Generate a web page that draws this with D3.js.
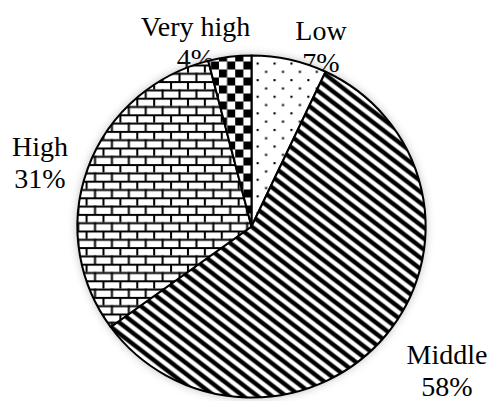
<!DOCTYPE html>
<html>
<head>
<meta charset="utf-8">
<script src="https://cdn.jsdelivr.net/npm/d3@7"></script>
<style>
  html, body { margin: 0; padding: 0; background: #fff; }
  svg { display: block; }
</style>
</head>
<body>
<script>
// Share of respondents per level (percent)
const categories = ["Low", "Middle", "High", "Very high"];
const shares = [7, 58, 31, 4];
const shareLabels = ["7%", "58%", "31%", "4%"];
const fillPatterns = ["dots", "stripes", "bricks", "checks"];

const width = 492, height = 401;
const cx = 251.5, cy = 226.5, radius = 171, stretchX = 1.018;

// label anchors: centre x and baseline of the first line
const labelAnchors = {
  "Low": [321, 40],
  "Middle": [447, 364],
  "High": [40, 156],
  "Very high": [195.5, 36]
};
const lineGap = 32;

const svg = d3.select("body").append("svg")
  .attr("width", width).attr("height", height)
  .attr("viewBox", `0 0 ${width} ${height}`);

const defs = svg.append("defs");

// sparse dots
const t = 16.6;
const pDots = defs.append("pattern").attr("id", "dots")
  .attr("patternUnits", "userSpaceOnUse").attr("width", t).attr("height", t)
  .attr("x", 5).attr("y", 2);
pDots.append("rect").attr("width", t).attr("height", t).attr("fill", "#fff");
pDots.append("rect").attr("x", 0).attr("y", 0).attr("width", 2.1).attr("height", 2.1).attr("fill", "#000");
pDots.append("rect").attr("x", t / 2).attr("y", t / 2).attr("width", 2.1).attr("height", 2.1).attr("fill", "#000");

// wide downward diagonal stripes
const sw = 14, sh = 11;
const pStripes = defs.append("pattern").attr("id", "stripes")
  .attr("patternUnits", "userSpaceOnUse").attr("width", sw).attr("height", sh);
pStripes.append("rect").attr("width", sw).attr("height", sh).attr("fill", "#fff");
[-sw, 0, sw].forEach(off => {
  pStripes.append("line")
    .attr("x1", off - sw).attr("y1", -sh)
    .attr("x2", off + 2 * sw).attr("y2", 2 * sh)
    .attr("stroke", "#000").attr("stroke-width", 4.4);
});

// horizontal bricks
const pBricks = defs.append("pattern").attr("id", "bricks")
  .attr("patternUnits", "userSpaceOnUse").attr("width", t).attr("height", t)
  .attr("x", 3).attr("y", 4);
pBricks.append("rect").attr("width", t).attr("height", t).attr("fill", "#fff");
pBricks.append("rect").attr("x", 0).attr("y", 0).attr("width", t).attr("height", 2).attr("fill", "#000");
pBricks.append("rect").attr("x", 0).attr("y", t / 2).attr("width", t).attr("height", 2).attr("fill", "#000");
pBricks.append("rect").attr("x", 0).attr("y", 0).attr("width", 2).attr("height", t / 2).attr("fill", "#000");
pBricks.append("rect").attr("x", t / 2).attr("y", t / 2).attr("width", 2).attr("height", t / 2).attr("fill", "#000");

// large checkerboard
const c = 8;
const pChecks = defs.append("pattern").attr("id", "checks")
  .attr("patternUnits", "userSpaceOnUse").attr("width", 2 * c).attr("height", 2 * c)
  .attr("y", 3);
pChecks.append("rect").attr("width", 2 * c).attr("height", 2 * c).attr("fill", "#fff");
pChecks.append("rect").attr("x", 0).attr("y", 0).attr("width", c).attr("height", c).attr("fill", "#000");
pChecks.append("rect").attr("x", c).attr("y", c).attr("width", c).attr("height", c).attr("fill", "#000");

// soft glow around the pie
const glow = defs.append("filter").attr("id", "glow")
  .attr("x", "-20%").attr("y", "-20%").attr("width", "140%").attr("height", "140%");
glow.append("feGaussianBlur").attr("stdDeviation", 4);

const data = categories.map((name, i) => ({
  name, value: shares[i], label: shareLabels[i], fill: fillPatterns[i]
}));

// labels
const labels = svg.append("g")
  .attr("font-family", "'Liberation Serif', 'Times New Roman', serif")
  .attr("font-size", 28)
  .attr("fill", "#000")
  .attr("text-anchor", "middle");
data.forEach(d => {
  const [lx, ly] = labelAnchors[d.name];
  const txt = labels.append("text").attr("x", lx).attr("y", ly);
  txt.append("tspan").attr("x", lx).text(d.name);
  txt.append("tspan").attr("x", lx).attr("dy", lineGap).text(d.label);
});

const pieGroup = svg.append("g")
  .attr("transform", `translate(${cx},${cy}) scale(${stretchX},1)`);

pieGroup.append("circle")
  .attr("r", radius + 1)
  .attr("fill", "#9a9a9a")
  .attr("opacity", 0.6)
  .attr("filter", "url(#glow)");

const pie = d3.pie().sort(null).value(d => d.value);
const arc = d3.arc().innerRadius(0).outerRadius(radius);

pieGroup.selectAll("path.slice")
  .data(pie(data))
  .join("path")
  .attr("class", "slice")
  .attr("d", arc)
  .attr("fill", d => `url(#${d.data.fill})`)
  .attr("stroke", "#000")
  .attr("stroke-width", 2)
  .attr("stroke-linejoin", "round");
</script>
</body>
</html>
